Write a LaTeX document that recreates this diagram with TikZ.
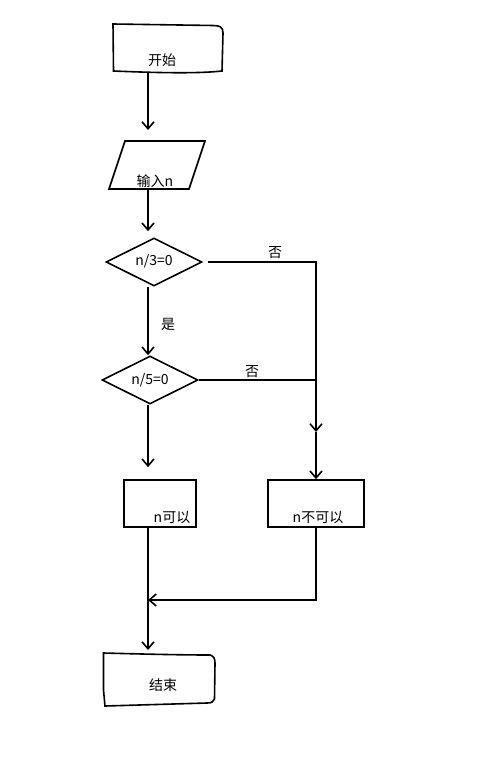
\documentclass[tikz,border=0pt]{standalone}
\usepackage{fontspec}
\setmainfont{Noto Sans CJK SC}
\usepackage{tikz}
\usetikzlibrary{shapes.geometric,arrows.meta,positioning,calc}

\begin{document}
\begin{tikzpicture}[x=1pt,y=1pt,yscale=-1,
  line width=1.6pt,
  arr/.style={-{Straight Barb[length=7pt,width=12pt,line width=1.6pt]}},
  procbox/.style={draw,rectangle,inner sep=0pt},
  decision/.style={draw,diamond,inner sep=0pt},
  lbl/.style={inner sep=0.75pt,font=\fontsize{14}{16}\selectfont}]
  \useasboundingbox (0,0) rectangle (483,757);
  \coordinate (col) at (148,0);

  %Shape: start terminal (hand drawn)
  \draw (113,24) -- (113.5,71) .. controls (150,72.5) and (195,74) .. (222,71)
        -- (223,33) .. controls (223,27) and (220,25.5) .. (213,25.5) -- cycle ;
  \coordinate (start) at (148,72);
  %Shape: Parallelogram
  \draw (125,141) -- (205,141) -- (189,189) -- (109,189) -- cycle ;
  \coordinate (inp-top) at (148,141);
  \coordinate (inp-bot) at (148,189);
  %Shape: Diamonds
  \node[decision,minimum width=96pt,minimum height=48pt] (q3) at (154,262) {};
  \node[decision,minimum width=96pt,minimum height=48pt] (q5) at (150,380) {};
  %Shape: Rectangles
  \node[procbox,minimum width=72pt,minimum height=47pt] (yes) at (160,503.5) {};
  \node[procbox,minimum width=96pt,minimum height=47pt] (no) at (316,503.5) {};
  %Shape: end terminal (hand drawn)
  \draw (103.5,653) .. controls (140,654) and (180,655) .. (210,655)
        .. controls (214,656) and (215,659) .. (215,663) -- (214.5,699)
        .. controls (214,702) and (211,703) .. (207,703)
        -- (105,706) -- (103.5,690) -- cycle ;
  \coordinate (end) at (148,653);
  \coordinate (rmid) at (316,432);
  \coordinate (join) at (148,600);

  %Straight Lines
  \draw[arr,shorten >=11pt] (start) -- (inp-top);
  \draw[arr,shorten >=6pt] (inp-bot) -- (q3.north -| col);
  \draw[arr] (q3.south -| col) -- (q5.north -| col);
  \draw[arr,shorten <=5pt] (q3.east) -| (rmid);
  \draw[arr] (rmid) -- (no.north);
  \draw (q5.east) -- (q5.east -| no.north);
  \draw[arr,shorten >=12pt] (q5.south -| col) -- (yes.north -| col);
  \draw[arr] (no.south) |- (join);
  \draw[arr,shorten >=3pt] (yes.south -| col) -- (end);

  % Text Node
  \node[lbl] (t-start) at (162,60) {开始};
  % Text Node
  \node[lbl] (t-inp) at (155,181) {输入n};
  % Text Node
  \node[lbl] (t-q3) at (154,261) {n/3=0};
  % Text Node
  \node[lbl] (t-q5) at (150,380) {n/5=0};
  % Text Node
  \node[lbl] (t-no3) at (275,253) {否};
  % Text Node
  \node[lbl] (t-no5) at (252,372) {否};
  % Text Node
  \node[lbl] (t-yes3) at (168,324) {是};
  % Text Node
  \node[lbl] (t-yes) at (172,517) {n可以};
  % Text Node
  \node[lbl] (t-no) at (318,517) {n不可以};
  % Text Node
  \node[lbl] (t-end) at (163,685) {结束};
\end{tikzpicture}
\end{document}
